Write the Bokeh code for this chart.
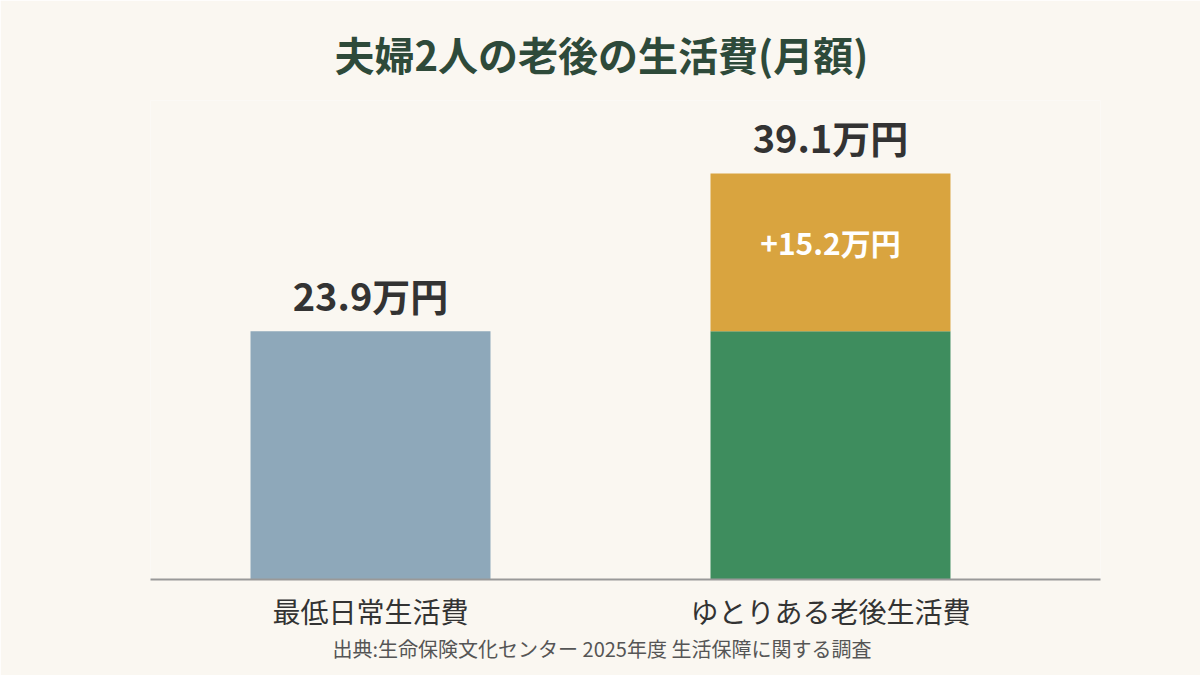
from bokeh.plotting import figure
from bokeh.models import ColumnDataSource, Range1d, FixedTicker, Title, LabelSet
from bokeh.core.properties import value
from bokeh.embed import file_html
from bokeh.resources import INLINE

# ── Data ─────────────────────────────────────────────────────────
categories = ["最低日常生活費", "ゆとりある老後生活費"]
base_values = [23.9, 23.9]
extra_values = [0.0, 15.2]
base_colors = ["#8ea8ba", "#3e8d5e"]
extra_color = "#d9a43f"
source_note = "出典:生命保険文化センター 2025年度 生活保障に関する調査"
title_text = "夫婦2人の老後の生活費(月額)"

FONT = "Noto Sans CJK JP"
BG = "#faf7f1"
TEXT = "#333333"

totals = [b + e for b, e in zip(base_values, extra_values)]
xs = list(range(len(categories)))

base_src = ColumnDataSource(data=dict(
    x=xs, top=base_values, color=base_colors,
))
extra_idx = [i for i, e in enumerate(extra_values) if e > 0]
extra_src = ColumnDataSource(data=dict(
    x=[xs[i] for i in extra_idx],
    bottom=[base_values[i] for i in extra_idx],
    top=[totals[i] for i in extra_idx],
    mid=[base_values[i] + extra_values[i] / 2 for i in extra_idx],
    label=["+{:.1f}万円".format(extra_values[i]) for i in extra_idx],
))
total_src = ColumnDataSource(data=dict(
    x=xs, y=totals, label=["{:.1f}万円".format(t) for t in totals],
))

p = figure(
    width=1200, height=675,
    x_range=Range1d(-0.4783, 1.5870), y_range=Range1d(0, 46.13),
    output_backend="svg", toolbar_location=None, tools="",
)
p.min_border_left = 150
p.min_border_right = 100
p.min_border_bottom = 96
p.min_border_top = 100
p.background_fill_color = BG
p.border_fill_color = BG
p.outline_line_color = None

p.vbar(x="x", top="top", bottom=0, width=0.5217, color="color",
       source=base_src, line_color=None)
p.vbar(x="x", top="top", bottom="bottom", width=0.5217, color=extra_color,
       source=extra_src, line_color=None)

p.add_layout(LabelSet(x="x", y="y", text="label", source=total_src,
                      y_offset=9, text_align="center", text_baseline="bottom",
                      text_font=value(FONT), text_font_style="bold",
                      text_font_size="38px", text_color=TEXT))
p.add_layout(LabelSet(x="x", y="mid", text="label", source=extra_src,
                      y_offset=10, text_align="center", text_baseline="middle",
                      text_font=value(FONT), text_font_style="bold",
                      text_font_size="30px", text_color="#ffffff"))

# axes
p.yaxis.visible = False
p.xgrid.grid_line_color = None
p.ygrid.grid_line_color = None
p.xaxis.ticker = FixedTicker(ticks=xs)
p.xaxis.major_label_overrides = {i: c for i, c in enumerate(categories)}
p.xaxis.axis_line_color = "#999999"
p.xaxis.axis_line_width = 2
p.xaxis.major_tick_line_color = None
p.xaxis.minor_tick_line_color = None
p.xaxis.major_label_text_font = FONT
p.xaxis.major_label_text_font_size = "28px"
p.xaxis.major_label_text_color = TEXT
p.xaxis.major_label_standoff = 5

# title and source note (centred on the page, not on the frame)
p.title.text = title_text
p.title.align = "left"
p.title.offset = 184
p.title.text_font = FONT
p.title.text_font_style = "bold"
p.title.text_font_size = "40px"
p.title.text_color = "#2e4a3a"
p.title.standoff = 35

p.add_layout(Title(text=source_note, align="left", offset=182, text_font=FONT,
                   text_font_size="20px", text_font_style="normal",
                   text_color="#555555", standoff=-4), "below")

open("out.html", "w").write(file_html(p, INLINE))
